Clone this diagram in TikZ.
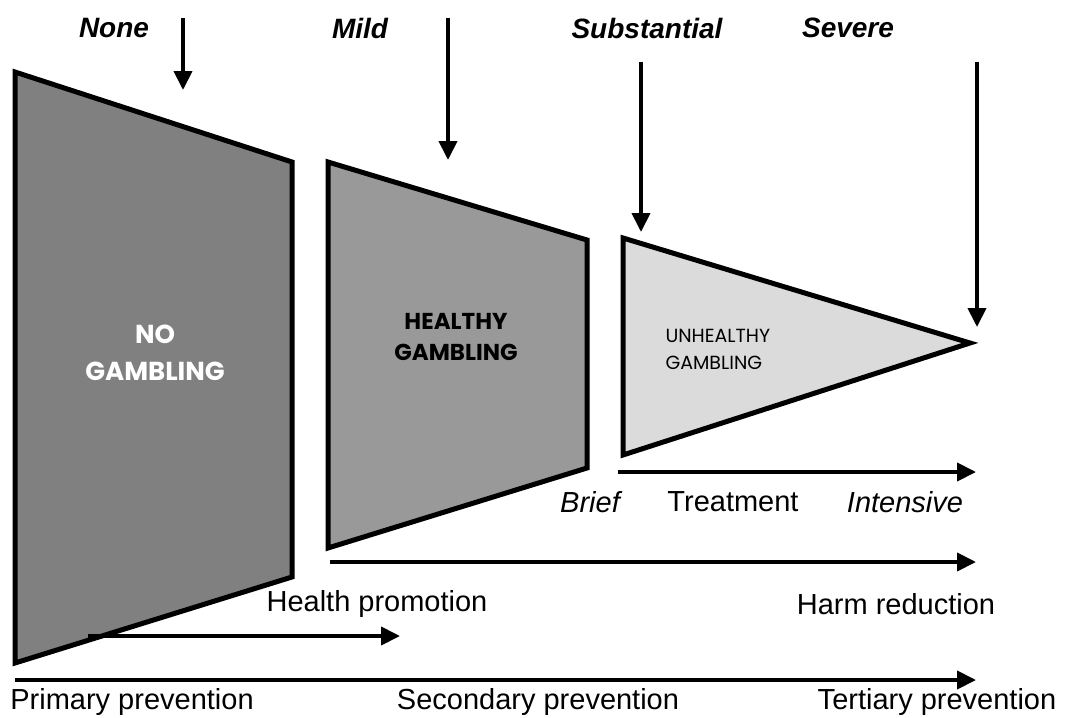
\documentclass[tikz,border=0pt]{standalone}
\usepackage{fontspec}
\setmainfont{Liberation Sans}
\newfontfamily\geofont{Poppins}
\usetikzlibrary{arrows.meta}

\tikzset{
  block/.style={draw=black,line width=5pt,line join=miter},
  bigarrow/.style={line width=4pt,-{Triangle[length=19pt,width=18pt]}},
  lbl/.style={font=\fontsize{29}{32}\selectfont},
  grade/.style={font=\fontsize{28}{30}\selectfont\bfseries\itshape},
}

\begin{document}
\begin{tikzpicture}[x=1pt,y=-1pt]
  \useasboundingbox (0,0) rectangle (1070,717);

  \filldraw[block,fill=black!50] (15,72) -- (292,162) -- (292,577) -- (15,663) -- cycle;
  \filldraw[block,fill=black!40] (328,162) -- (587,240) -- (587,468) -- (328,548) -- cycle;
  \filldraw[block,fill=black!14] (623,238) -- (970,343) -- (623,455) -- cycle;

  \node[white,align=center,font=\geofont\fontsize{26}{37}\selectfont\bfseries] (nogamb) at (155,353) {NO\\GAMBLING};
  \node[align=center,font=\geofont\fontsize{23}{31}\selectfont\bfseries] (healthy) at (456,337) {HEALTHY\\GAMBLING};
  \node[align=left,font=\geofont\fontsize{19}{27}\selectfont,anchor=west] (unhealthy) at (662,349) {UNHEALTHY\\GAMBLING};

  \node[grade] (none) at (114,28) {None};
  \node[grade] (mild) at (360,28) {Mild};
  \node[grade] (subst) at (647,28) {Substantial};
  \node[grade] (severe) at (848,28) {Severe};

  \coordinate (n1) at (183,18);   \coordinate (n2) at (183,90);
  \coordinate (m1) at (448,18);   \coordinate (m2) at (448,160);
  \coordinate (s1) at (641,62);   \coordinate (s2) at (641,232);
  \coordinate (v1) at (977,62);   \coordinate (v2) at (977,327);
  \draw[bigarrow] (n1) -- (n2);
  \draw[bigarrow] (m1) -- (m2);
  \draw[bigarrow] (s1) -- (s2);
  \draw[bigarrow] (v1) -- (v2);

  \coordinate (t1) at (618,472);  \coordinate (t2) at (976,472);
  \coordinate (h1) at (330,562);  \coordinate (h2) at (976,562);
  \coordinate (p1) at (88,636);   \coordinate (p2) at (400,636);
  \coordinate (a1) at (15,680);   \coordinate (a2) at (976,680);
  \draw[bigarrow] (t1) -- (t2);
  \draw[bigarrow] (h1) -- (h2);
  \draw[bigarrow] (p1) -- (p2);
  \draw[bigarrow] (a1) -- (a2);

  \node[lbl,font=\fontsize{29}{32}\selectfont\itshape] (brief) at (590,502) {Brief};
  \node[lbl] (treat) at (733,502) {Treatment};
  \node[lbl,font=\fontsize{29}{32}\selectfont\itshape] (intens) at (905,502) {Intensive};
  \node[lbl] (promo) at (377,604) {Health promotion};
  \node[lbl] (harm) at (896,604) {Harm reduction};
  \node[lbl] (prim) at (132,702) {Primary prevention};
  \node[lbl] (second) at (538,702) {Secondary prevention};
  \node[lbl] (tert) at (937,702) {Tertiary prevention};
\end{tikzpicture}
\end{document}
